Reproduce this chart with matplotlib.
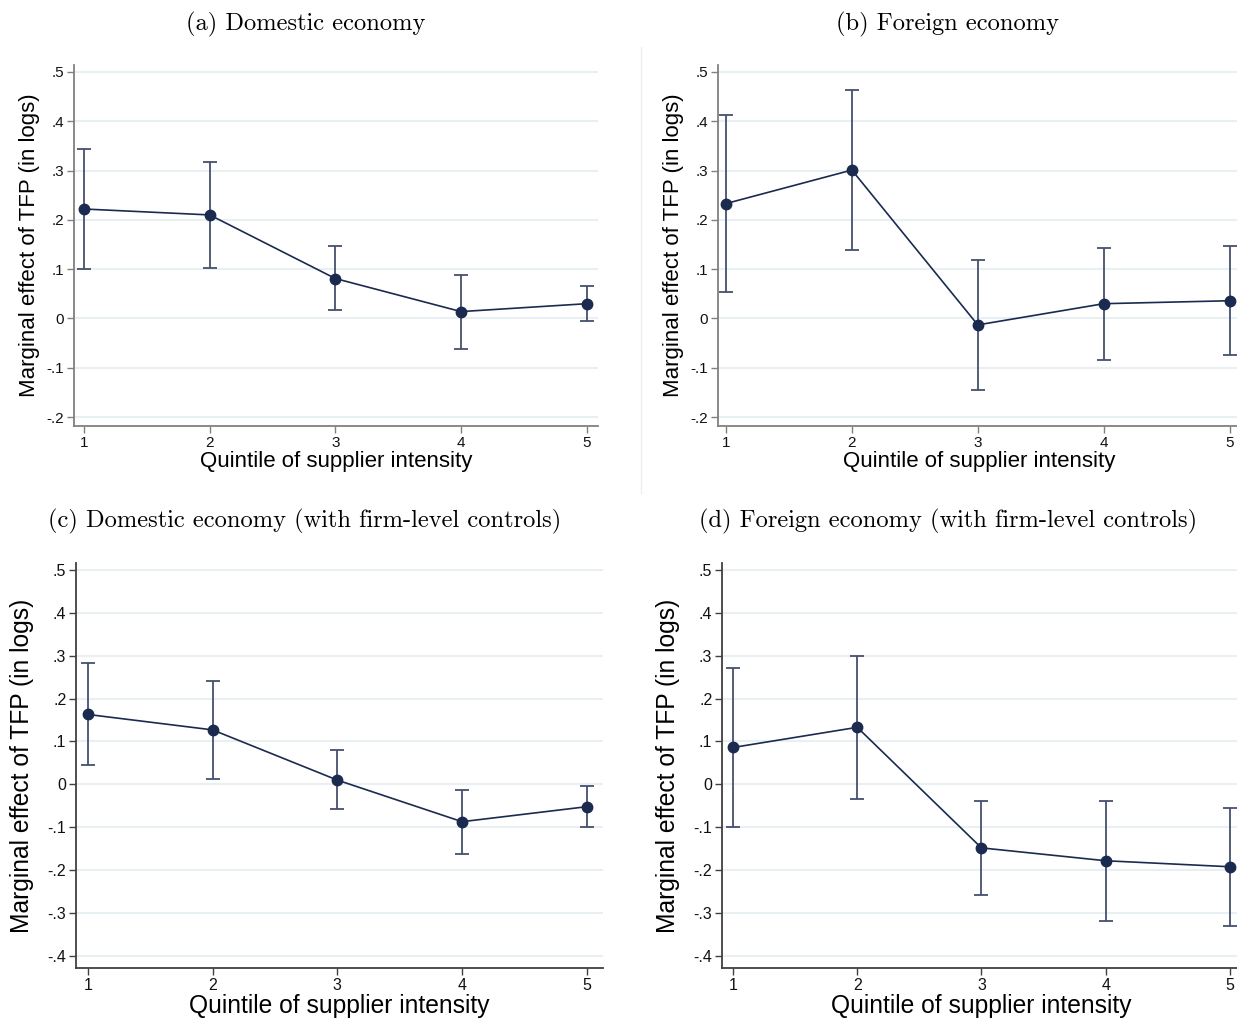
import numpy as np
import matplotlib
matplotlib.use('Agg')
import matplotlib.pyplot as plt
from matplotlib.ticker import FuncFormatter

# ==========================================
# veri
# ==========================================
quintiles = [1, 2, 3, 4, 5]

dom_est = [0.222, 0.210, 0.081, 0.014, 0.030]
dom_lo = [0.101, 0.103, 0.017, -0.061, -0.005]
dom_hi = [0.343, 0.317, 0.146, 0.089, 0.065]

for_est = [0.233, 0.301, -0.013, 0.030, 0.036]
for_lo = [0.054, 0.138, -0.145, -0.084, -0.074]
for_hi = [0.412, 0.464, 0.119, 0.143, 0.146]

domc_est = [0.163, 0.127, 0.010, -0.087, -0.052]
domc_lo = [0.046, 0.012, -0.058, -0.162, -0.099]
domc_hi = [0.282, 0.241, 0.080, -0.012, -0.004]

forc_est = [0.086, 0.133, -0.148, -0.178, -0.192]
forc_lo = [-0.099, -0.033, -0.257, -0.319, -0.329]
forc_hi = [0.271, 0.299, -0.038, -0.038, -0.054]

titles = ['(a) Domestic economy', '(b) Foreign economy',
          '(c) Domestic economy (with firm-level controls)',
          '(d) Foreign economy (with firm-level controls)']

NAVY = '#1a2b4f'
BAR = '#46506e'
GRID = '#e9f0f3'

W, H = 1237, 1019
fig = plt.figure(figsize=(W / 100, H / 100), dpi=100)


def px_ax(left, top, right, bottom):
    return fig.add_axes([left / W, 1 - bottom / H, (right - left) / W, (bottom - top) / H])


def stata_fmt(v, pos):
    if abs(v) < 1e-9:
        return '0'
    s = f'{v:.1f}'
    return s.replace('0.', '.')


panels = [
    # (eksen px, xlim, ylim, yticks, est, lo, hi, yazı boyu, tick boyu, labelpad, spine rengi)
    ((74, 65, 598, 426), (0.92, 5.09), (-0.218, 0.514), np.arange(-0.2, 0.51, 0.1),
     dom_est, dom_lo, dom_hi, 16, 11, 5, '#808080'),
    ((718, 65, 1241, 426), (0.937, 5.09), (-0.218, 0.514), np.arange(-0.2, 0.51, 0.1),
     for_est, for_lo, for_hi, 16, 11, 5, '#808080'),
    ((76, 563, 603, 968), (0.905, 5.13), (-0.428, 0.516), np.arange(-0.4, 0.51, 0.1),
     domc_est, domc_lo, domc_hi, 17.7, 11.5, 10, '#404040'),
    ((722, 563, 1241, 968), (0.911, 5.09), (-0.428, 0.516), np.arange(-0.4, 0.51, 0.1),
     forc_est, forc_lo, forc_hi, 17.7, 11.5, 10, '#404040'),
]

title_pos = [(306, 24), (948, 24), (305, 521), (948, 521)]

for i, (box, xl, yl, yt, est, lo, hi, fs, tfs, lp, sc) in enumerate(panels):
    ax = px_ax(*box)
    est = np.array(est)
    err = np.vstack([est - np.array(lo), np.array(hi) - est])
    ax.errorbar(quintiles, est, yerr=err, fmt='none', ecolor=BAR, elinewidth=1.3,
                capsize=5, capthick=1.3, zorder=3)
    ax.plot(quintiles, est, color=NAVY, linewidth=1.2, marker='o', markersize=7.5,
            markerfacecolor=NAVY, markeredgecolor=NAVY, zorder=4)
    ax.set_xlim(*xl)
    ax.set_ylim(*yl)
    ax.set_xticks(quintiles)
    ax.set_yticks(yt)
    ax.yaxis.set_major_formatter(FuncFormatter(stata_fmt))
    ax.grid(axis='y', color=GRID, linewidth=1.5)
    ax.set_axisbelow(True)
    for s in ['top', 'right']:
        ax.spines[s].set_visible(False)
    for s in ['left', 'bottom']:
        ax.spines[s].set_color(sc)
        ax.spines[s].set_linewidth(1.3)
    ax.tick_params(axis='both', length=5, width=1, color=sc, labelsize=tfs,
                   labelcolor='#111111', pad=2)
    ax.set_xlabel('Quintile of supplier intensity', fontsize=fs, family='Liberation Sans',
                  labelpad=1)
    ax.set_ylabel('Marginal effect of TFP (in logs)', fontsize=fs, family='Liberation Sans',
                  labelpad=lp)
    for lab in ax.get_xticklabels() + ax.get_yticklabels():
        lab.set_family('Liberation Sans')
    tx, ty = title_pos[i]
    fig.text(tx / W, 1 - ty / H, titles[i], ha='center', va='center', fontsize=17.6,
             family='cmr10')

# iki panel arasındaki ince dikey çizgi
fig.add_artist(plt.Line2D([641 / W, 641 / W], [1 - 47 / H, 1 - 493 / H], color='#eeeeee',
                          linewidth=1))

fig.savefig('out.png', dpi=100)
